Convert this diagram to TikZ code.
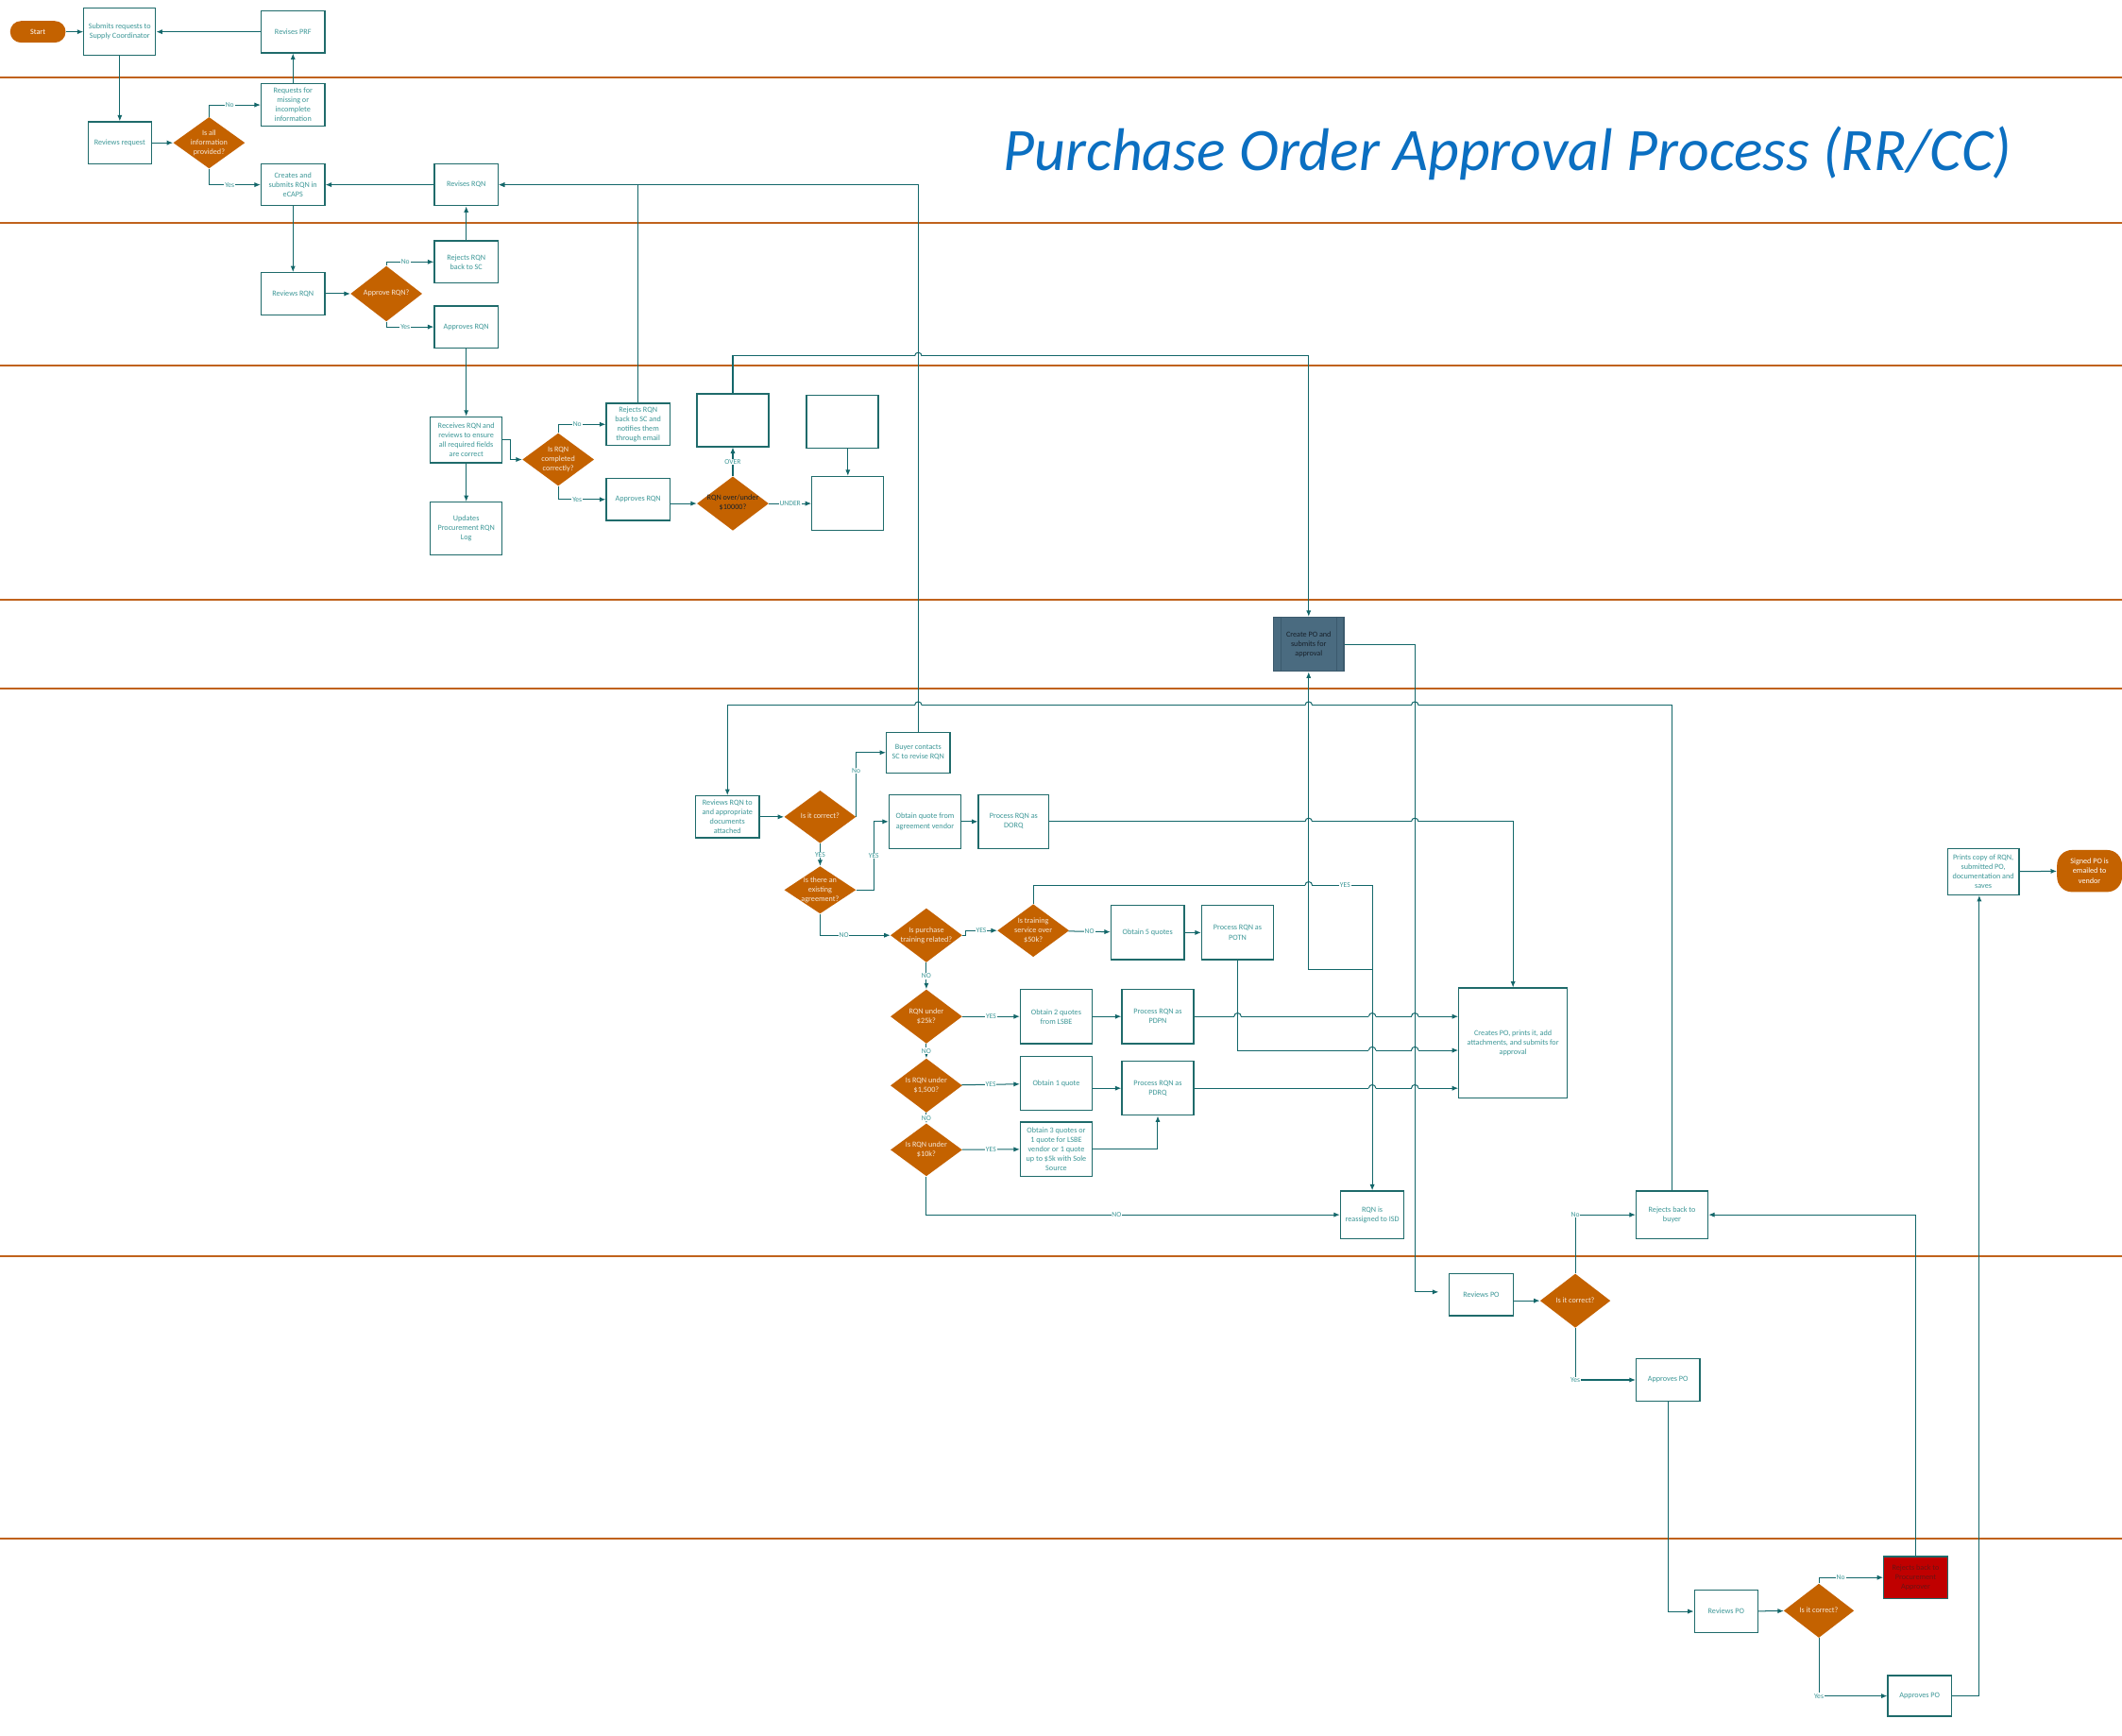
\documentclass[tikz,border=0pt]{standalone}
\usepackage{fontspec}
\setmainfont{Carlito}
\usetikzlibrary{arrows.meta,shapes.geometric,positioning}

\definecolor{lanec}{HTML}{C0621C}
\definecolor{boxc}{HTML}{1F6B6B}
\definecolor{wirec}{HTML}{13676A}
\definecolor{txtc}{HTML}{3C9797}
\definecolor{decc}{HTML}{C46200}
\definecolor{dectxt}{HTML}{F6E8DA}
\definecolor{titlec}{HTML}{0B6FC1}
\definecolor{pofill}{HTML}{4A6B80}
\definecolor{poedge}{HTML}{3B5A6D}
\definecolor{potxt}{HTML}{17212B}
\definecolor{rejfill}{HTML}{C00000}
\definecolor{rejtxt}{HTML}{6A1414}

\newcommand{\boxfont}{\fontsize{5.7}{7}\selectfont}
\newcommand{\labfont}{\fontsize{5.3}{6}\selectfont}
% text of a decision, kept out of the diamond size
\newcommand{\dtext}[1]{\smash{\makebox[0pt]{\raisebox{-1.4pt}{\begin{tabular}{@{}c@{}}#1\end{tabular}}}}}
% line jump over a vertical connector
\newcommand{\hop}[2]{%
  \fill[white] (#1-2.6,#2-1.2) rectangle (#1+2.6,#2+1.2);
  \draw[wire] (#1,#2-1.7) -- (#1,#2+1.7);
  \draw[wire] (#1-2.6,#2) arc[start angle=180,end angle=360,radius=2.6];}

\tikzset{
  lane/.style={draw=lanec,line width=1.35pt},
  wire/.style={draw=wirec,line width=0.7pt},
  conn/.style={wire,-{Latex[length=4.5pt,width=3.6pt]}},
  proc/.style={rectangle,draw=boxc,line width=0.9pt,fill=white,text=txtc,
    align=center,minimum width=47pt,minimum height=31pt,inner sep=1pt,font=\boxfont},
  dec/.style={diamond,fill=decc,text=dectxt,minimum width=53pt,minimum height=40pt,
    inner sep=0pt,font=\boxfont},
  pill/.style={rectangle,rounded corners=8pt,fill=decc,text=white,align=center,
    minimum width=41pt,minimum height=16pt,inner sep=1pt,font=\boxfont},
  lab/.style={fill=white,text=txtc,inner sep=0.6pt,font=\labfont}
}

\begin{document}
\begin{tikzpicture}[x=1pt,y=-1pt]
  \fill[white] (0,0) rectangle (1568,1282);
  \useasboundingbox (0,0) rectangle (1568,1282);

  % Swim lane separators
  \foreach \ly in {57,165,270,443,509,928,1137}
    \draw[lane] (0,\ly) -- (1568,\ly);

  \node[font=\fontsize{44.5}{50}\selectfont\itshape,text=titlec] (title) at (1114,113)
    {Purchase Order Approval Process (RR/CC)};

  % Lane 1: requester
  \node[pill] (start) at (28,23.5) {Start};
  \node[proc,minimum width=53pt,minimum height=35pt] (submit) at (88.5,23.5) {Submits requests to\\Supply Coordinator};
  \node[proc] (revprf) at (216.5,23.5) {Revises PRF};

  % Lane 2: supply coordinator
  \node[proc] (reqmiss) at (216.5,77.5) {Requests for\\missing or\\incomplete\\information};
  \node[proc] (revreq) at (88.5,105.5) {Reviews request};
  \node[dec,minimum height=38pt] (qinfo) at (154.5,105.5) {\dtext{Is all\\information\\provided?}};
  \node[proc] (creates) at (216.5,136.5) {Creates and\\submits RQN in\\eCAPS};
  \node[proc] (revrqn) at (344.5,136.5) {Revises RQN};

  % Lane 3: department approver
  \node[proc] (rejsc) at (344.5,193.5) {Rejects RQN\\back to SC};
  \node[proc] (revrqn2) at (216.5,217) {Reviews RQN};
  \node[dec,minimum height=41pt] (qappr) at (285.5,217) {\dtext{Approve RQN?}};
  \node[proc] (apprqn) at (344.5,241.5) {Approves RQN};

  % Lane 4: procurement approver
  \node[proc,minimum width=53pt,minimum height=34pt] (recv) at (344.5,325) {Receives RQN and\\reviews to ensure\\all required fields\\are correct};
  \node[proc,minimum width=53pt,minimum height=39pt] (updlog) at (344.5,390.5) {Updates\\Procurement RQN\\Log};
  \node[dec,minimum height=39pt] (qcomp) at (412.5,339.5) {\dtext{Is RQN\\completed\\correctly?}};
  \node[proc] (rejmail) at (471.5,313.5) {Rejects RQN\\back to SC and\\notifies them\\through email};
  \node[proc] (apprqn2) at (471.5,369) {Approves RQN};
  \node[dec] (qover) at (541.5,372) {\dtext{\color{potxt}RQN over/under\\\color{potxt}\$10000?}};
  \node[proc,minimum width=53pt,minimum height=39pt] (blanka) at (541.5,310.5) {};
  \node[proc,minimum width=53pt,minimum height=39pt] (blankb) at (622.5,311.5) {};
  \node[proc,minimum width=53pt,minimum height=40pt] (blankc) at (626.5,372) {};

  % Lane 5: buyer system
  \node[proc,fill=pofill,draw=poedge,text=potxt,minimum width=52pt,minimum height=40pt] (createpo) at (967,476) {Create PO and\\submits for\\approval};
  \draw[draw=poedge,line width=0.7pt] ([xshift=6]createpo.north west) -- ([xshift=6]createpo.south west);
  \draw[draw=poedge,line width=0.7pt] ([xshift=-6]createpo.north east) -- ([xshift=-6]createpo.south east);

  % Lane 6: buyer
  \node[proc] (revbuy) at (537.5,603.5) {Reviews RQN to\\and appropriate\\documents\\attached};
  \node[dec,minimum height=39pt] (qcorrect) at (606,603.5) {\dtext{Is it correct?}};
  \node[proc,minimum height=30pt] (buyer) at (678.5,556) {Buyer contacts\\SC to revise RQN};
  \node[proc,minimum width=53pt,minimum height=40pt] (obtagree) at (683.5,607) {Obtain quote from\\agreement vendor};
  \node[proc,minimum width=52pt,minimum height=40pt] (dorq) at (749,607) {Process RQN as\\DORQ};
  \node[dec,minimum height=35pt] (qagree) at (606,657.5) {\dtext{Is there an\\existing\\agreement?}};
  \node[dec] (qtrain) at (684.5,691) {\dtext{Is purchase\\training related?}};
  \node[dec,minimum height=39pt] (qfifty) at (763.5,687.5) {\dtext{Is training\\service over\\\$50k?}};
  \node[proc,minimum width=54pt,minimum height=40pt] (obt5) at (848,689) {Obtain 5 quotes};
  \node[proc,minimum width=53pt,minimum height=40pt] (potn) at (914.5,689) {Process RQN as\\POTN};
  \node[dec] (q25) at (684.5,751) {\dtext{RQN under\\\$25k?}};
  \node[proc,minimum width=53pt,minimum height=40pt] (obt2) at (780.5,751) {Obtain 2 quotes\\from LSBE};
  \node[proc,minimum width=53pt,minimum height=40pt] (pdpn) at (855.5,751) {Process RQN as\\PDPN};
  \node[dec] (q1500) at (684.5,802) {\dtext{Is RQN under\\\$1,500?}};
  \node[proc,minimum width=53pt,minimum height=40pt] (obt1) at (780.5,800.5) {Obtain 1 quote};
  \node[proc,minimum width=53pt,minimum height=40pt] (pdrq) at (855.5,804) {Process RQN as\\PDRQ};
  \node[dec,minimum height=39pt] (q10k) at (684.5,849.5) {\dtext{Is RQN under\\\$10k?}};
  \node[proc,minimum width=53pt,minimum height=40pt,inner sep=0.5pt] (obt3) at (780.5,849) {Obtain 3 quotes or\\1 quote for LSBE\\vendor or 1 quote\\up to \$5k with Sole\\Source};
  \node[proc,minimum width=80pt,minimum height=81pt] (createpo2) at (1118,770.5) {Creates PO, prints it, add\\attachments, and submits for\\approval};
  \node[proc,minimum height=35pt] (isd) at (1014,897.5) {RQN is\\reassigned to ISD};
  \node[proc,minimum width=53pt,minimum height=35pt] (rejbuyer) at (1235.5,897.5) {Rejects back to\\buyer};
  \node[proc,minimum width=53pt,minimum height=34pt] (prints) at (1465.5,644) {Prints copy of RQN,\\submitted PO,\\documentation and\\saves};
  \node[pill,rounded corners=11pt,minimum width=48pt,minimum height=31pt] (signed) at (1544,643.5) {Signed PO is\\emailed to\\vendor};

  % Lane 7: procurement approver
  \node[proc] (revpo) at (1094.5,956.5) {Reviews PO};
  \node[dec,minimum width=52pt] (qpo) at (1164,961) {\dtext{Is it correct?}};
  \node[proc] (apppo) at (1232.5,1019.5) {Approves PO};

  % Lane 8: final approver
  \node[proc] (revpo2) at (1275.5,1190.5) {Reviews PO};
  \node[dec,minimum width=52pt] (qpo2) at (1344,1190) {\dtext{Is it correct?}};
  \node[proc,fill=rejfill,text=rejtxt] (rejproc) at (1415.5,1165.5) {Rejects back to\\Procurement\\Approver};
  \node[proc,minimum height=30pt] (apppo2) at (1418.5,1253) {Approves PO};

  % Turning points of long connectors
  \coordinate (overturn) at (967,263);
  \coordinate (loopturn) at (537.5,521);
  \coordinate (yesturn) at (1014,654);
  \coordinate (pojoin) at (1014,716);
  \coordinate (podrop) at (1045.5,954.5);
  \coordinate (poin) at (1063,954.5);

  % Lanes 1-3
  \draw[conn] (start) -- (submit);
  \draw[conn] (revprf) -- (submit);
  \draw[conn] (submit) -- (revreq);
  \draw[conn] (revreq) -- (qinfo);
  \draw[conn] (qinfo.north) |- node[lab,pos=0.7]{No} (reqmiss.west);
  \draw[conn] (qinfo.south) |- node[lab,pos=0.7]{Yes} (creates.west);
  \draw[conn] (reqmiss) -- (revprf);
  \draw[conn] (revrqn) -- (creates);
  \draw[conn] (creates) -- (revrqn2);
  \draw[conn] (revrqn2) -- (qappr);
  \draw[conn] (qappr.north) |- node[lab,pos=0.7]{No} (rejsc.west);
  \draw[conn] (qappr.south) |- node[lab,pos=0.7]{Yes} (apprqn.west);
  \draw[conn] (rejsc) -- (revrqn);
  \draw[conn] (apprqn) -- (recv);

  % Lane 4
  \draw[conn] (recv) -- (updlog);
  \draw[conn] (recv.east) -- ++(6,0) |- (qcomp.west);
  \draw[conn] (qcomp.north) |- node[lab,pos=0.7]{No} (rejmail.west);
  \draw[conn] (qcomp.south) |- node[lab,pos=0.7]{Yes} (apprqn2.west);
  \draw[conn] (apprqn2.east |- qover.west) -- (qover.west);
  \draw[conn] (qover) -- node[lab]{OVER} (blanka);
  \draw[conn] (qover) -- node[lab]{UNDER} (blankc);
  \draw[conn] (blankc.north |- blankb.south) -- (blankc.north);
  \draw[conn] (rejmail.north) |- (revrqn.east);
  \draw[conn] (blanka.north) |- (overturn) -- (createpo.north);

  % Lane 5
  \draw[conn] (createpo.east) -| (podrop) -- (poin);

  % Lane 6
  \draw[conn] (buyer.north) |- (revrqn.east);
  \draw[conn] (revbuy) -- (qcorrect);
  \draw[conn] (qcorrect.east) |- node[lab,pos=0.36]{No} (buyer.west);
  \draw[conn] (qcorrect) -- node[lab]{YES} (qagree);
  \draw[conn] (qagree.east) -- ++(13,0) |- node[lab,pos=0.25]{YES} (obtagree.west);
  \draw[conn] (obtagree) -- (dorq);
  \draw[conn] (dorq.east) -| (createpo2.north);
  \draw[conn] (qagree.south) |- node[lab,pos=0.67]{NO} (qtrain.west);
  \draw[conn] (qtrain.east) -- ++(2,0) |- node[lab,pos=0.75]{YES} (qfifty.west);
  \draw[conn] (qfifty) -- node[lab]{NO} (obt5);
  \draw[conn] (obt5) -- (potn);
  \draw[conn] (potn.south) |- ([yshift=-5.5]createpo2.west);
  \draw[conn] (qfifty.north) |- node[lab,pos=0.96]{YES} (yesturn) -- (isd.north);
  \draw[conn] (pojoin) -| (createpo.south);
  \draw[conn] (qtrain) -- node[lab]{NO} (q25);
  \draw[conn] (q25) -- node[lab]{YES} (obt2);
  \draw[conn] (obt2) -- (pdpn);
  \draw[conn] (pdpn.east) -- (pdpn.east -| createpo2.west);
  \draw[conn] (q25) -- node[lab]{NO} (q1500);
  \draw[conn] (q1500) -- node[lab]{YES} (obt1);
  \draw[conn] (obt1.east |- pdrq.west) -- (pdrq.west);
  \draw[conn] (pdrq.east) -- (pdrq.east -| createpo2.west);
  \draw[conn] (q1500) -- node[lab]{NO} (q10k);
  \draw[conn] (q10k) -- node[lab]{YES} (obt3);
  \draw[conn] (obt3.east) -| (pdrq.south);
  \draw[conn] (q10k.south) |- node[lab,pos=0.73]{NO} (isd.west);
  \draw[conn] (rejbuyer.north) |- (loopturn) -- (revbuy.north);

  % Lanes 7-8
  \draw[conn] (revpo.east |- qpo.west) -- (qpo.west);
  \draw[conn] (qpo.north) |- node[lab,pos=0.5]{No} (rejbuyer.west);
  \draw[conn] (qpo.south) |- node[lab,pos=0.5]{Yes} (apppo.west);
  \draw[conn] (apppo.south) |- (revpo2.west);
  \draw[conn] (revpo2) -- (qpo2);
  \draw[conn] (qpo2.north) |- node[lab,pos=0.67]{No} (rejproc.west);
  \draw[conn] (qpo2.south) |- node[lab,pos=0.5]{Yes} (apppo2.west);
  \draw[conn] (rejproc.north) |- (rejbuyer.east);
  \draw[conn] (apppo2.east) -| ([xshift=-3]prints.south);
  \draw[conn] (prints) -- (signed);

  % Line jumps where connectors cross
  \hop{678.5}{263}
  \hop{678.5}{521} \hop{967}{521} \hop{1045.5}{521}
  \hop{967}{607} \hop{1045.5}{607}
  \hop{967}{654}
  \hop{914.5}{751} \hop{1014}{751} \hop{1045.5}{751}
  \hop{1014}{776} \hop{1045.5}{776}
  \hop{1014}{804} \hop{1045.5}{804}
\end{tikzpicture}
\end{document}
